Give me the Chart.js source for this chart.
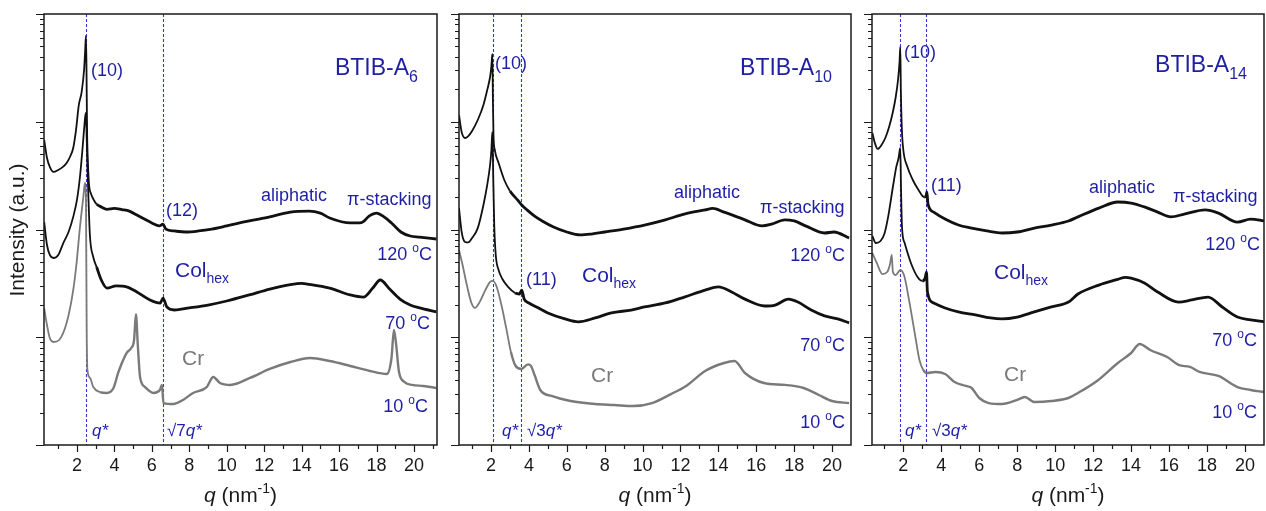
<!DOCTYPE html>
<html>
<head>
<meta charset="utf-8">
<script src="https://cdn.jsdelivr.net/npm/chart.js@4.4.1/dist/chart.umd.min.js"></script>
<style>
  html, body { margin: 0; padding: 0; background: #fff; }
  #wrap { position: relative; width: 1266px; height: 511px; overflow: hidden; }
  canvas { position: absolute; top: 0; }
</style>
</head>
<body>
<div id="wrap">
  <canvas id="pA6" width="445" height="511" style="left:0"></canvas>
  <canvas id="pA10" width="413" height="511" style="left:445px"></canvas>
  <canvas id="pA14" width="408" height="511" style="left:858px"></canvas>
</div>
<script>
// x tick labels, q in nm^-1
const xTickValues = [2, 4, 6, 8, 10, 12, 14, 16, 18, 20];

// BTIB-A6
const qA6_120 = [0.25,0.4,0.55,0.75,1.0,1.25,1.45,1.65,1.8,1.95,2.1,2.25,2.38,2.44,2.48,2.51,2.54,2.59,2.65,2.75,2.9,3.05,3.3,3.6,4.0,4.4,4.8,5.2,5.6,6.0,6.4,6.59,6.75,7.2,7.8,8.5,9.2,10.0,11.2,12.3,13.4,14.4,15.0,15.5,16.6,17.2,17.6,18.0,18.4,18.8,19.3,19.8,20.3,21.2];
const iA6_120 = [677,461,381,342,357,381,415,481,571,838,1431,1888,3022,4634,6249,3022,838,397,255,215,188,172,162,154,157,153,148,136,125,115,108,112,101,96.9,94.8,96.9,101,108,120,131,145,148,142,128,115,116,133,142,131,115,94.8,87,85,81.6];
const qA6_70 = [0.25,0.4,0.55,0.75,1.0,1.27,1.55,1.8,2.0,2.16,2.3,2.4,2.47,2.51,2.55,2.6,2.69,2.87,3.05,3.3,3.6,4.1,4.65,5.2,5.9,6.45,6.6,6.8,7.2,8.0,9.0,10.0,11.2,12.3,13.4,14.0,14.4,15.5,16.6,17.3,17.8,18.2,18.7,19.25,19.8,20.3,21.2];
const iA6_70 = [117,71.8,58,54.4,58,74.9,94.8,131,188,307,571,933,1206,838,442,233,89,55.6,44.9,34,28.6,30.0,29.4,26.3,22.2,20.8,23.1,19.1,17.9,18.7,19.9,21.7,24.7,28.0,30.8,31.6,31.0,28.6,24.7,23.6,28.6,34,28.0,22.6,19.9,18.7,17.2];
const qA6_10 = [0.25,0.4,0.55,0.75,1.05,1.45,1.8,1.98,2.16,2.34,2.43,2.48,2.52,2.56,2.7,2.87,3.23,3.59,3.95,4.2,4.4,4.65,4.9,5.05,5.15,5.25,5.37,5.64,6.08,6.43,6.54,6.62,7.14,7.67,8.2,8.93,9.28,9.64,10.2,11.24,12.3,13.4,14.45,15.5,16.6,17.65,18.55,18.8,18.93,19.05,19.2,19.5,19.9,20.5,21.2];
const iA6_10 = [18.5,13.0,9.84,9.03,9.43,13.6,27.4,48.9,105,200,270,188,11.7,4.97,4.19,3.45,3.10,3.04,3.38,4.66,5.77,7.14,7.95,9.43,16.4,8.48,4.28,3.45,3.04,3.24,3.61,2.45,2.40,2.62,3.04,3.45,4.28,3.76,3.61,4.19,5.08,5.89,6.42,6.02,5.41,4.86,4.56,6.42,11.7,8.48,4.76,3.84,3.61,3.53,3.38];
const guidesA6 = [2.49, 6.59];

// BTIB-A10
const qA10_120 = [0.31,0.45,0.63,0.8,1.0,1.3,1.6,1.8,1.95,2.02,2.07,2.1,2.13,2.2,2.4,2.7,3.0,3.4,3.62,3.9,4.3,4.7,5.3,6.0,6.7,7.3,8.0,9.0,10.1,11.2,12.2,13.3,13.7,14.3,15.4,16.3,16.8,17.5,18.0,18.6,19.6,20.1,20.9];
const iA10_120 = [1155,803,707,737,821,1038,1431,1971,2602,3292,4255,1592,753,547,414,288,228,188,169,152,133,120,105.5,94.8,89,90.8,94.8,101,110,123,139,152,157,145,123,108,112,123,120,108,92.8,94.8,83.4];
const qA10_70 = [0.31,0.45,0.63,0.8,1.0,1.3,1.6,1.8,1.95,2.02,2.07,2.12,2.17,2.25,2.4,2.6,2.9,3.27,3.5,3.62,3.75,4.0,4.4,5.0,5.9,6.6,7.5,8.35,9.4,10.1,11.2,12.2,13.3,14.0,14.7,15.4,16.45,17.0,17.7,18.2,18.9,19.6,20.3,20.9];
const iA10_70 = [158,94.8,76.6,75.8,83.4,103,169,259,397,547,803,288,110,58,42.1,34.7,29.3,25.7,25.2,27.4,22.6,20.8,19.1,16.8,14.8,13.9,15.1,16.8,17.9,19.1,20.8,23.6,27.4,29.3,26.3,22.6,19.5,19.9,22.6,21.2,17.9,15.8,14.8,13.6];
const qA10_10 = [0.31,0.5,0.7,0.95,1.15,1.4,1.7,1.95,2.1,2.3,2.55,2.8,3.05,3.3,3.6,3.95,4.1,4.3,4.6,5.2,6.2,7.5,8.5,9.5,10.5,11.5,12.3,13.3,14.3,14.85,15.4,16.4,17.5,18.5,19.3,20.0,20.9];
const iA10_10 = [64.5,46.8,31.9,21.2,18.7,21.2,27.4,32.6,33.3,29.3,19.9,12.2,7.3,5.41,5.08,5.60,5.45,4.46,3.24,2.85,2.56,2.40,2.35,2.30,2.45,2.97,3.53,4.86,5.77,6.02,4.66,3.76,3.61,3.38,2.91,2.56,2.45];
const guidesA10 = [2.08, 3.60];

// BTIB-A14
const qA14_120 = [0.37,0.5,0.65,0.85,1.05,1.25,1.45,1.6,1.72,1.8,1.84,1.87,1.92,2.0,2.2,2.5,2.8,3.1,3.2,3.24,3.3,3.6,4.2,4.9,5.6,6.4,7.2,8.0,8.9,9.8,10.7,11.2,12.3,13.3,14.0,14.7,15.4,16.1,16.8,17.9,18.6,19.6,20.3,21.0];
const iA14_120 = [786,635,559,608,707,894,1232,1697,2440,3585,4939,1971,875,547,388,288,233,200,205,223,172,145,125,110,103,96.9,92.8,94.8,103,110,120,131,158,180,176,162,145,131,139,152,142,117,125,120];
const qA14_70 = [0.37,0.55,0.8,1.0,1.2,1.45,1.63,1.75,1.84,1.88,1.93,2.07,2.4,2.75,3.0,3.15,3.22,3.27,3.6,4.2,4.9,5.8,6.6,7.2,8.0,8.9,9.8,10.7,11.2,12.3,13.3,13.7,14.0,14.7,15.4,16.5,17.2,18.05,18.8,19.6,20.3,21.0];
const iA14_70 = [87,74.9,78.2,90.8,131,248,381,461,571,233,105,74.9,48.9,36.2,33.3,35.5,40.3,26.3,20.8,18.7,17.2,16.1,15.1,14.8,15.4,17.2,19.1,21.2,25.2,30.5,34.5,36.0,35.3,31.9,26.3,21.2,22.2,23.6,19.1,15.4,14.5,13.9];
const qA14_10 = [0.37,0.6,0.9,1.15,1.3,1.39,1.45,1.6,1.84,2.05,2.3,2.6,2.85,3.05,3.23,3.7,4.2,4.7,5.3,5.6,6.0,6.5,7.2,8.0,8.4,8.9,9.8,10.7,11.2,12.2,13.3,14.0,14.45,15.0,15.9,16.5,17.1,17.6,18.6,19.6,20.3,21.0];
const iA14_10 = [60.5,48.9,38.6,40.3,47.8,58,40.3,37.8,42.1,37.0,22.2,10.95,6.15,4.97,4.66,4.76,4.56,3.84,3.53,3.38,2.73,2.45,2.40,2.62,2.79,2.51,2.56,2.73,3.04,3.93,5.77,7.14,8.66,7.62,6.56,5.53,5.30,4.76,4.37,3.45,3.24,3.10];
const guidesA14 = [1.85, 3.22];

const FONT = '"Liberation Sans", Arial, Helvetica, sans-serif';
const INK = '#1a1a1a';
const NOTE = '#1f1fa3';
const GREY = '#7a7a7a';

// draw a run of text pieces (italic / sub / sup), y is the baseline
function rich(ctx, runs, x, y, size, align, color) {
  const parts = runs.map(r => {
    const s = (r.sub || r.sup) ? Math.round(size * 0.68) : size;
    const font = (r.it ? 'italic ' : '') + s + 'px ' + FONT;
    ctx.font = font;
    return { t: r.t, font, w: ctx.measureText(r.t).width, dy: r.sub ? size * 0.3 : r.sup ? -size * 0.42 : 0 };
  });
  const total = parts.reduce((s, p) => s + p.w, 0);
  let cx = align === 'right' ? x - total : align === 'center' ? x - total / 2 : x;
  ctx.fillStyle = color;
  ctx.textAlign = 'left';
  ctx.textBaseline = 'alphabetic';
  parts.forEach(p => { ctx.font = p.font; ctx.fillText(p.t, cx, y + p.dy); cx += p.w; });
}

const panelDecor = {
  id: 'panelDecor',
  beforeDatasetsDraw(chart, args, opts) {
    const { ctx, chartArea: a, scales: { x } } = chart;
    ctx.save();
    ctx.strokeStyle = '#3535d8';
    ctx.lineWidth = 1.1;
    ctx.setLineDash([3, 2]);
    opts.guides.forEach(q => {
      const px = Math.round(x.getPixelForValue(q)) + 0.5;
      ctx.beginPath();
      ctx.moveTo(px, a.top);
      ctx.lineTo(px, a.bottom);
      ctx.stroke();
    });
    ctx.restore();
  },
  afterDraw(chart, args, opts) {
    const { ctx, chartArea: a, scales: { x, y } } = chart;
    ctx.save();
    ctx.strokeStyle = INK;
    ctx.lineWidth = 1.5;
    ctx.strokeRect(a.left, a.top, a.right - a.left, a.bottom - a.top);

    // tick marks, pointing outwards
    ctx.lineWidth = 1.2;
    ctx.beginPath();
    for (let q = 1; q <= 21; q++) {
      const px = Math.round(x.getPixelForValue(q)) + 0.5;
      if (px < a.left || px > a.right) continue;
      ctx.moveTo(px, a.bottom);
      ctx.lineTo(px, a.bottom + (q % 2 === 0 ? 7 : 4));
    }
    for (let d = 1; d <= 10000; d *= 10) {
      for (let m = 1; m < 10; m++) {
        const v = d * m;
        if (v > 10000) break;
        const py = Math.round(y.getPixelForValue(v)) + 0.5;
        ctx.moveTo(a.left, py);
        ctx.lineTo(a.left - (m === 1 ? 8 : 4), py);
      }
    }
    ctx.stroke();

    opts.notes.forEach(n => rich(ctx, n.runs, a.left + n.x, a.top + n.y, n.size, n.align || 'left', n.color || NOTE));

    rich(ctx, [{ t: 'q', it: true }, { t: ' (nm' }, { t: '-1', sup: true }, { t: ')' }],
      (a.left + a.right) / 2, 502, 21, 'center', INK);

    if (opts.yTitle) {
      ctx.translate(18, 230);
      ctx.rotate(-Math.PI / 2);
      ctx.fillStyle = INK;
      ctx.font = '21px ' + FONT;
      ctx.textAlign = 'center';
      ctx.textBaseline = 'middle';
      ctx.fillText(opts.yTitle, 0, 0);
    }
    ctx.restore();
  }
};

function series(q, vals, color, thick) {
  return {
    data: q.map((v, k) => ({ x: v, y: vals[k] })),
    borderColor: color,
    borderWidth: 1.8,
    segment: { borderWidth: c => (c.p0.parsed.x > 2.9 ? thick : 1.8) },
    pointRadius: 0,
    cubicInterpolationMode: 'monotone',
    fill: false
  };
}

function makePanel(id, p) {
  new Chart(document.getElementById(id), {
    type: 'line',
    data: {
      datasets: [
        series(p.q10, p.i10, GREY, 2.4),
        series(p.q70, p.i70, '#111', 2.8),
        series(p.q120, p.i120, '#111', 2.8)
      ]
    },
    options: {
      responsive: false,
      animation: false,
      events: [],
      layout: { padding: { top: 14, right: p.padRight, left: 0, bottom: 0 } },
      plugins: {
        legend: { display: false },
        tooltip: { enabled: false },
        panelDecor: { guides: p.guides, notes: p.notes, yTitle: p.yTitle }
      },
      scales: {
        x: {
          type: 'linear',
          min: p.qMin,
          max: p.qMax,
          afterBuildTicks: s => { s.ticks = xTickValues.map(v => ({ value: v })); },
          afterFit: s => { s.height = 66; },
          grid: { display: false, drawTicks: false },
          border: { display: false },
          ticks: { padding: 10, color: INK, font: { family: FONT, size: 18 }, maxRotation: 0, autoSkip: false }
        },
        y: {
          type: 'logarithmic',
          min: 1,
          max: 10000,
          afterFit: s => { s.width = p.axisLeft; },
          grid: { display: false, drawTicks: false },
          border: { display: false },
          ticks: { display: false }
        }
      }
    },
    plugins: [panelDecor]
  });
}

const deg = t => [{ t: t + ' ' }, { t: 'o', sup: true }, { t: 'C' }];
const colhex = [{ t: 'Col' }, { t: 'hex', sub: true }];

makePanel('pA6', {
  q120: qA6_120, i120: iA6_120, q70: qA6_70, i70: iA6_70, q10: qA6_10, i10: iA6_10,
  guides: guidesA6, qMin: 0.24, qMax: 21.23, axisLeft: 44, padRight: 8,
  yTitle: 'Intensity (a.u.)',
  notes: [
    { runs: [{ t: 'BTIB-A' }, { t: '6', sub: true }], x: 374, y: 61, size: 23, align: 'right' },
    { runs: [{ t: '(10)' }], x: 47, y: 62, size: 18 },
    { runs: [{ t: '(12)' }], x: 122, y: 202, size: 18 },
    { runs: [{ t: 'aliphatic' }], x: 217, y: 187, size: 18 },
    { runs: [{ t: 'π-stacking' }], x: 303, y: 191, size: 18 },
    { runs: deg('120'), x: 388, y: 246, size: 18, align: 'right' },
    { runs: colhex, x: 131, y: 263, size: 21 },
    { runs: deg('70'), x: 386, y: 315, size: 18, align: 'right' },
    { runs: [{ t: 'Cr' }], x: 138, y: 351, size: 21, color: GREY },
    { runs: deg('10'), x: 384, y: 398, size: 18, align: 'right' },
    { runs: [{ t: 'q*', it: true }], x: 48, y: 422, size: 17 },
    { runs: [{ t: '√7' }, { t: 'q*', it: true }], x: 123, y: 422, size: 17 }
  ]
});

makePanel('pA10', {
  q120: qA10_120, i120: iA10_120, q70: qA10_70, i70: iA10_70, q10: qA10_10, i10: iA10_10,
  guides: guidesA10, qMin: 0.31, qMax: 21.0, axisLeft: 14, padRight: 7,
  notes: [
    { runs: [{ t: 'BTIB-A' }, { t: '10', sub: true }], x: 373, y: 61, size: 23, align: 'right' },
    { runs: [{ t: '(10)' }], x: 36, y: 55, size: 18 },
    { runs: [{ t: 'aliphatic' }], x: 215, y: 184, size: 18 },
    { runs: [{ t: 'π-stacking' }], x: 301, y: 199, size: 18 },
    { runs: deg('120'), x: 386, y: 247, size: 18, align: 'right' },
    { runs: [{ t: '(11)' }], x: 67, y: 271, size: 18 },
    { runs: colhex, x: 123, y: 268, size: 21 },
    { runs: deg('70'), x: 386, y: 337, size: 18, align: 'right' },
    { runs: [{ t: 'Cr' }], x: 132, y: 368, size: 21, color: GREY },
    { runs: deg('10'), x: 386, y: 414, size: 18, align: 'right' },
    { runs: [{ t: 'q*', it: true }], x: 43, y: 422, size: 17 },
    { runs: [{ t: '√3' }, { t: 'q*', it: true }], x: 68, y: 422, size: 17 }
  ]
});

makePanel('pA14', {
  q120: qA14_120, i120: iA14_120, q70: qA14_70, i70: iA14_70, q10: qA14_10, i10: iA14_10,
  guides: guidesA14, qMin: 0.35, qMax: 21.0, axisLeft: 14, padRight: 2,
  notes: [
    { runs: [{ t: 'BTIB-A' }, { t: '14', sub: true }], x: 375, y: 58, size: 23, align: 'right' },
    { runs: [{ t: '(10)' }], x: 32, y: 44, size: 18 },
    { runs: [{ t: '(11)' }], x: 59, y: 177, size: 18 },
    { runs: [{ t: 'aliphatic' }], x: 217, y: 179, size: 18 },
    { runs: [{ t: 'π-stacking' }], x: 301, y: 188, size: 18 },
    { runs: deg('120'), x: 388, y: 236, size: 18, align: 'right' },
    { runs: colhex, x: 122, y: 265, size: 21 },
    { runs: deg('70'), x: 385, y: 332, size: 18, align: 'right' },
    { runs: [{ t: 'Cr' }], x: 132, y: 367, size: 21, color: GREY },
    { runs: deg('10'), x: 385, y: 404, size: 18, align: 'right' },
    { runs: [{ t: 'q*', it: true }], x: 33, y: 422, size: 17 },
    { runs: [{ t: '√3' }, { t: 'q*', it: true }], x: 60, y: 422, size: 17 }
  ]
});
</script>
</body>
</html>
